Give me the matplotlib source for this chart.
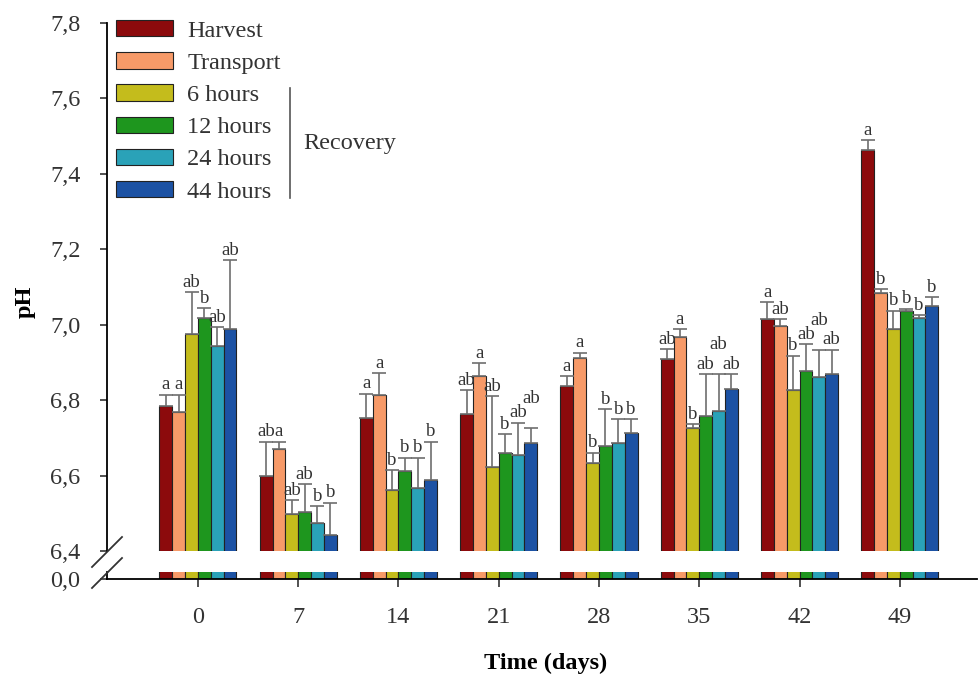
import numpy as np
import matplotlib.pyplot as plt
from matplotlib.lines import Line2D

plt.rcParams['font.family'] = ['Liberation Serif', 'DejaVu Serif']

days = ['0', '7', '14', '21', '28', '35', '42', '49']
series = ['Harvest', 'Transport', '6 hours', '12 hours', '24 hours', '44 hours']
colors = ['#8c0a0c', '#f79a68', '#c4bc1c', '#1e961e', '#2aa2b8', '#1c52a4']

harvest = [6.785, 6.599, 6.753, 6.764, 6.838, 6.909, 7.015, 7.462]
transport = [6.769, 6.669, 6.813, 6.863, 6.911, 6.966, 6.997, 7.084]
h6 = [6.975, 6.497, 6.561, 6.622, 6.632, 6.726, 6.827, 6.988]
h12 = [7.018, 6.503, 6.611, 6.659, 6.678, 6.758, 6.878, 7.037]
h24 = [6.944, 6.475, 6.567, 6.655, 6.687, 6.771, 6.862, 7.017]
h44 = [6.988, 6.442, 6.588, 6.685, 6.714, 6.829, 6.869, 7.048]

err_harvest = [0.029, 0.091, 0.064, 0.062, 0.026, 0.026, 0.044, 0.026]
err_transport = [0.045, 0.021, 0.058, 0.034, 0.015, 0.022, 0.018, 0.009]
err_h6 = [0.111, 0.037, 0.053, 0.188, 0.029, 0.010, 0.091, 0.049]
err_h12 = [0.026, 0.074, 0.036, 0.051, 0.098, 0.111, 0.070, 0.005]
err_h24 = [0.049, 0.044, 0.080, 0.085, 0.062, 0.098, 0.071, 0.008]
err_h44 = [0.182, 0.086, 0.102, 0.041, 0.035, 0.040, 0.064, 0.024]

let_harvest = ['a', 'ab', 'a', 'ab', 'a', 'ab', 'a', 'a']
let_transport = ['a', 'a', 'a', 'a', 'a', 'a', 'ab', 'b']
let_h6 = ['ab', 'ab', 'b', 'ab', 'b', 'b', 'b', 'b']
let_h12 = ['b', 'ab', 'b', 'b', 'b', 'ab', 'ab', 'b']
let_h24 = ['ab', 'b', 'b', 'ab', 'b', 'ab', 'ab', 'b']
let_h44 = ['ab', 'b', 'b', 'ab', 'b', 'ab', 'ab', 'b']

means = [harvest, transport, h6, h12, h24, h44]
errs = [err_harvest, err_transport, err_h6, err_h12, err_h24, err_h44]
letters = [let_harvest, let_transport, let_h6, let_h12, let_h24, let_h44]

W, H = 979, 679
fig = plt.figure(figsize=(W / 100, H / 100), dpi=100)


def px(x, y):
    return x / W, 1 - y / H


left, right = 107, 977
ax = fig.add_axes([left / W, 1 - 551 / H, (right - left) / W, (551 - 22.7) / H])
axb = fig.add_axes([left / W, 1 - 579 / H, (right - left) / W, 7 / H])

x = np.arange(len(days))
width = 0.128
for i, (m, e) in enumerate(zip(means, errs)):
    pos = x + (i - 2.5) * width
    for a in (ax, axb):
        a.bar(pos, m, width, color=colors[i], edgecolor='#222222', linewidth=0.8,
              label=series[i] if a is ax else None, zorder=2)
    ax.errorbar(pos, m, yerr=[np.zeros(len(e)), e], fmt='none', ecolor='#6e6e6e',
                elinewidth=1.2, capsize=5, capthick=1.2, zorder=3)

# significance letters, staggered when two "ab" sit at the same height
for j in range(len(days)):
    prev_top, prev_lab, prev_raised = None, None, False
    for i in range(len(series)):
        top = means[i][j] + errs[i][j]
        lab = letters[i][j]
        raised = (prev_top is not None and not prev_raised and lab == 'ab'
                  and prev_lab == 'ab' and abs(top - prev_top) < 0.03)
        ax.annotate(lab, (x[j] + (i - 2.5) * width, top),
                    xytext=(0, 15 if raised else 1), textcoords='offset points',
                    ha='center', va='bottom', fontsize=13.5, color='#333333')
        prev_top, prev_lab, prev_raised = top, lab, raised

for a in (ax, axb):
    a.set_xlim(-0.907, 7.77)
    for s in ('top', 'right'):
        a.spines[s].set_visible(False)
    a.tick_params(direction='out', labelsize=17.5, colors='#333333', width=1.2)
    a.tick_params(axis='y', length=5, pad=14)
    a.spines['left'].set_linewidth(1.3)

ax.set_ylim(6.4, 7.8)
ax.spines['bottom'].set_visible(False)
ax.set_xticks([])
yt = np.arange(6.4, 7.81, 0.2)
ax.set_yticks(yt)
ax.set_yticklabels([f'{v:.1f}'.replace('.', ',') for v in yt])

axb.set_ylim(0, 0.1)
axb.set_yticks([0])
axb.set_yticklabels(['0,0'])
axb.set_xticks(x)
axb.set_xticklabels(days)
axb.tick_params(axis='x', length=6, pad=14)
axb.spines['bottom'].set_linewidth(1.3)

# axis break marks
for yc in (552, 573):
    x0, y0 = px(92, yc + 15)
    x1, y1 = px(122, yc - 15)
    fig.add_artist(Line2D([x0, x1], [y0, y1], color='#333333', lw=1.3))

fig.text(*px(25, 302), 'pH', rotation=90, ha='center', va='center',
         fontsize=17.5, fontweight='bold')
fig.text(*px(546, 663), 'Time (days)', ha='center', va='center',
         fontsize=17.5, fontweight='bold')

leg = fig.legend(loc='upper left', bbox_to_anchor=px(116, 20), frameon=False,
                 fontsize=17.5, handlelength=2.35, handleheight=0.66,
                 handletextpad=0.58, labelspacing=0.43, borderpad=0, borderaxespad=0)
for t in leg.get_texts():
    t.set_color('#333333')

# Recovery bracket
bx0, by0 = px(290, 88)
bx1, by1 = px(290, 198)
fig.add_artist(Line2D([bx0, bx1], [by0, by1], color='#555555', lw=1.2))
fig.text(*px(303, 143), 'Recovery', ha='left', va='center', fontsize=17.5, color='#333333')

fig.savefig('out.png', dpi=100)
